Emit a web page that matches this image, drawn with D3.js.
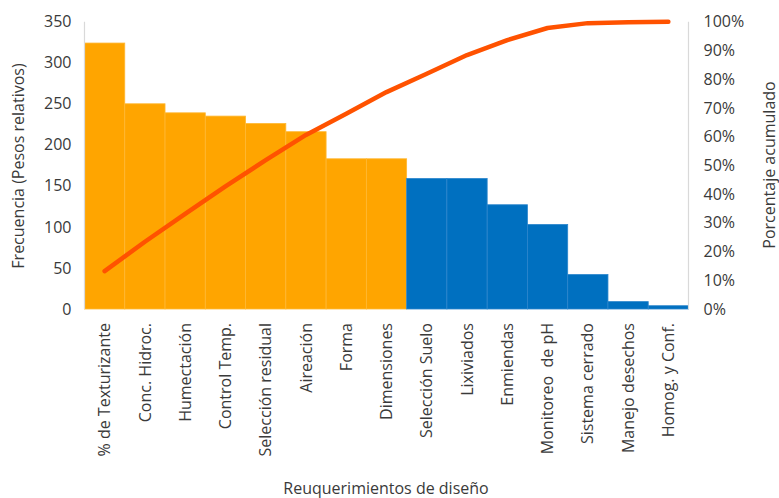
<!DOCTYPE html>
<html>
<head>
<meta charset="utf-8">
<script src="https://cdn.jsdelivr.net/npm/d3@7"></script>
<style>
  html, body { margin: 0; padding: 0; background: #fff; }
  svg { display: block; }
  text { font-family: "Open Sans", "Noto Sans", sans-serif; fill: #3a3a3a; white-space: pre; }
</style>
</head>
<body>
<svg id="chart" width="779" height="498"></svg>
<script>
const categories = ["% de Texturizante", "Conc. Hidroc.", "Humectación", "Control Temp.", "Selección residual",
  "Aireación", "Forma", "Dimensiones", "Selección Suelo", "Lixiviados", "Enmiendas",
  "Monitoreo  de pH", "Sistema cerrado", "Manejo desechos", "Homog. y Conf."];
const frequency = [324, 250, 239, 235, 226, 216, 183, 183, 159, 159, 127, 103, 42, 9, 4];
const cumulativePct = [13.2, 23.4, 33.1, 42.7, 51.8, 60.6, 68.0, 75.5, 81.9, 88.4, 93.6, 97.8, 99.5, 99.8, 100];
const group = ["A","A","A","A","A","A","A","A","B","B","B","B","B","B","B"];
const leftTicks = [0, 50, 100, 150, 200, 250, 300, 350];
const rightTicks = [0, 10, 20, 30, 40, 50, 60, 70, 80, 90, 100];
const leftTitle = "Frecuencia (Pesos relativos)";
const rightTitle = "Porcentaje acumulado";
const bottomTitle = "Reuquerimientos de diseño";

const svg = d3.select("#chart");
const L = 84.5, R = 688.5, T = 21.7, B = 309;
const colors = { A: "#FFA500", B: "#0070C0" };
const strokes = { A: "#FFB833", B: "#2C86CC" };

const x = d3.scaleBand().domain(categories).range([L, R]).padding(0);
const y = d3.scaleLinear().domain([0, 350]).range([B, T]);
const y2 = d3.scaleLinear().domain([0, 100]).range([B, T]);

// bars
svg.append("g").selectAll("rect").data(categories).join("rect")
  .attr("x", d => x(d))
  .attr("width", x.bandwidth())
  .attr("y", (d, i) => y(frequency[i]))
  .attr("height", (d, i) => B - y(frequency[i]))
  .attr("fill", (d, i) => colors[group[i]])
  .attr("stroke", (d, i) => strokes[group[i]])
  .attr("stroke-width", 0.8);

// axis lines
svg.append("line").attr("x1", L).attr("x2", L).attr("y1", T).attr("y2", B)
  .attr("stroke", "#D9D9D9").attr("stroke-width", 1.2);
svg.append("line").attr("x1", R).attr("x2", R).attr("y1", T).attr("y2", B)
  .attr("stroke", "#D9D9D9").attr("stroke-width", 1.2);

// left axis
const leftAxis = d3.axisLeft(y).tickValues(leftTicks).tickSize(0).tickPadding(13);
const gl = svg.append("g").attr("transform", `translate(${L},0)`).call(leftAxis);
gl.select(".domain").remove();
gl.selectAll("text").style("font-size", "16px").attr("fill", "#3a3a3a");

// right axis
const rightAxis = d3.axisRight(y2).tickValues(rightTicks).tickSize(0).tickPadding(15)
  .tickFormat(d => d + "%");
const gr = svg.append("g").attr("transform", `translate(${R},0)`).call(rightAxis);
gr.select(".domain").remove();
gr.selectAll("text").style("font-size", "16px").attr("fill", "#3a3a3a");

// category labels
svg.append("g").selectAll("text").data(categories).join("text")
  .attr("transform", d => `translate(${x(d) + x.bandwidth() / 2},323) rotate(-90)`)
  .attr("text-anchor", "end")
  .attr("dy", "0.35em")
  .style("font-size", "16px")
  .text(d => d);

// cumulative line
const line = d3.line()
  .x((d, i) => x(categories[i]) + x.bandwidth() / 2)
  .y(d => y2(d));
svg.append("path").datum(cumulativePct)
  .attr("d", line)
  .attr("fill", "none")
  .attr("stroke", "#FF5200")
  .attr("stroke-width", 4.5)
  .attr("stroke-linecap", "round")
  .attr("stroke-linejoin", "round");

// titles
svg.append("text").attr("transform", "translate(24,166) rotate(-90)")
  .attr("text-anchor", "middle").style("font-size", "16px").text(leftTitle);
svg.append("text").attr("transform", "translate(775,165) rotate(-90)")
  .attr("text-anchor", "middle").style("font-size", "16px").text(rightTitle);
svg.append("text").attr("x", 386).attr("y", 494)
  .attr("text-anchor", "middle").style("font-size", "16px").text(bottomTitle);
</script>
</body>
</html>
